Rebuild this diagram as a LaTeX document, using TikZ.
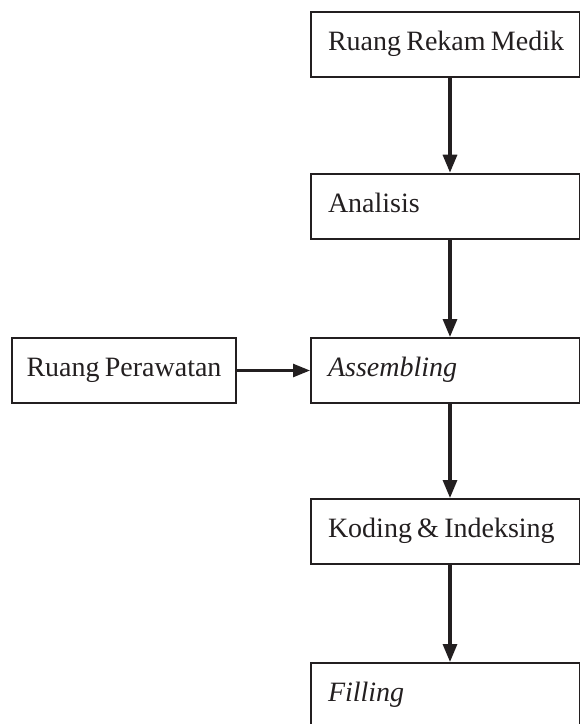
\documentclass[tikz,border=0pt]{standalone}
\usepackage{fontspec}
\setmainfont{Liberation Serif}[WordSpace=0.75]
\usetikzlibrary{arrows.meta}
\definecolor{ink}{RGB}{35,31,32}
\newcommand{\lefttext}[1]{\makebox[235pt][l]{#1}}
\begin{document}
\begin{tikzpicture}[x=1pt,y=-1pt,
  box/.style={draw=ink, line width=2pt, rectangle, anchor=north west,
    minimum height=65pt, inner sep=0pt, text=ink,
    font=\fontsize{28}{30}\selectfont, text height=1.3em, text depth=0.05em},
  rbox/.style={box, minimum width=269pt, inner xsep=17pt},
  lbox/.style={box, minimum width=224pt},
  arr/.style={draw=ink, line width=3.2pt, -{Triangle[width=14pt,length=18pt]}},
  harr/.style={draw=ink, line width=2.6pt, -{Triangle[width=13pt,length=17pt]}}]
\useasboundingbox (0,0) rectangle (580,724);
\node[rbox] (b1) at (310,11) {\lefttext{Ruang Rekam Medik}};
\node[rbox] (b2) at (310,172.7) {\lefttext{Analisis}};
\node[rbox] (b3) at (310,337) {\lefttext{\textit{Assembling}}};
\node[rbox] (b4) at (310,498) {\lefttext{Koding \& Indeksing}};
\node[rbox] (b5) at (310,662) {\lefttext{\textit{Filling}}};
\node[lbox] (pl) at (11,337) {Ruang Perawatan};
\coordinate (ax) at (450,0);
\draw[arr] (b1.south -| ax) -- (b2.north -| ax);
\draw[arr] (b2.south -| ax) -- (b3.north -| ax);
\draw[arr] (b3.south -| ax) -- (b4.north -| ax);
\draw[arr] (b4.south -| ax) -- (b5.north -| ax);
\draw[harr] (pl.east) -- (b3.west |- pl.east);
\end{tikzpicture}
\end{document}
